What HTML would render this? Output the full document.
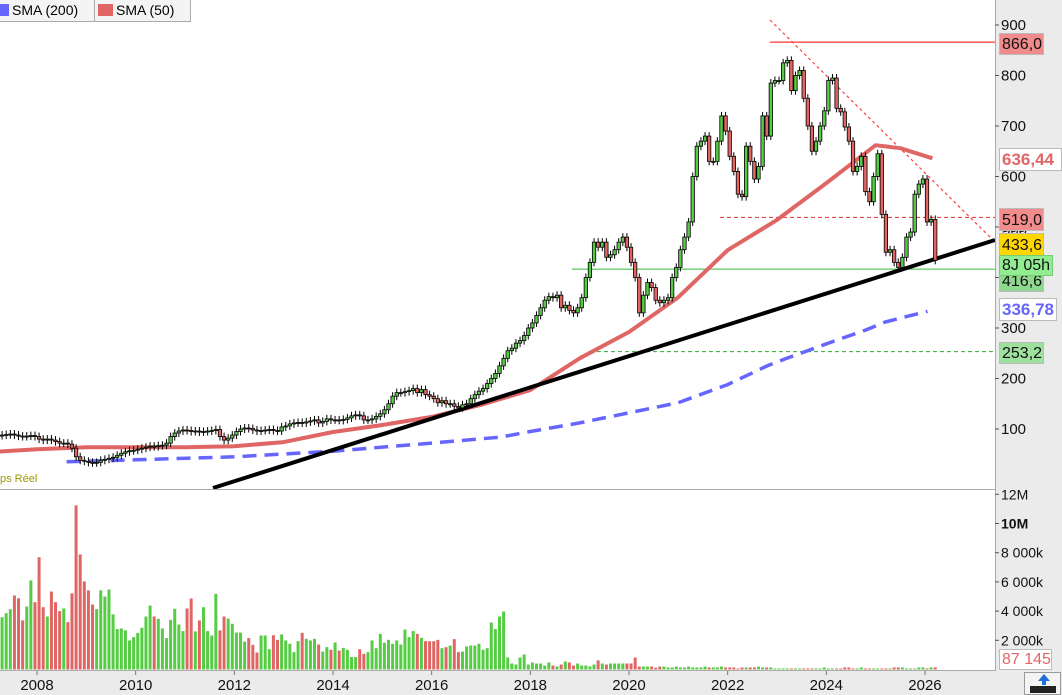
<!DOCTYPE html>
<html><head><meta charset="utf-8">
<style>
body{margin:0;width:1062px;height:695px;overflow:hidden;background:#fff;font-family:"Liberation Sans",sans-serif;}
svg{display:block}
</style></head>
<body>
<svg id="chart" width="1062" height="695" xmlns="http://www.w3.org/2000/svg">
<rect x="0" y="0" width="1062" height="695" fill="#fff"/>
<rect x="995" y="0" width="67" height="695" fill="#ebebeb"/>
<rect x="0" y="671" width="1062" height="24" fill="#ebebeb"/>
<g id="annot"></g>
<g id="vol"></g>
<g id="sma"></g>
<g id="candles"></g>
<g id="axes"></g>
</svg>
<script>
// ---- data (monthly, Jan 2007 .. ) ----
const startYear = 2007;
const closes = [
84,86,87,88,89,90,88,86,85,86,87,85,
80,78,80,78,75,72,72,70,62,45,38,36,
34,33,34,38,40,42,44,48,52,55,57,58,
60,62,64,66,65,67,68,72,85,92,96,98,
97,95,96,94,95,96,97,99,85,78,82,88,
95,100,102,101,98,96,97,98,99,97,96,104,
106,110,112,113,112,114,116,118,112,115,120,118,
118,117,119,122,126,128,126,118,118,120,125,130,
138,150,165,172,172,174,176,180,172,178,168,165,
160,152,156,150,150,145,142,148,150,160,168,175,
180,190,200,210,225,240,255,260,270,275,285,300,
310,325,340,355,362,360,365,340,345,335,330,340,
360,400,430,470,460,470,440,445,455,470,480,460,
430,400,330,365,390,380,355,350,355,360,400,420,
455,480,510,600,660,670,680,630,630,670,720,690,
640,610,565,560,660,630,595,620,720,680,785,790,
790,825,830,770,800,810,755,700,650,670,700,730,790,
795,735,728,698,670,610,620,640,570,550,600,645,
525,450,455,430,420,440,480,490,565,585,595,510,515,
434];
const volStart = 3;
const volumes = [
3.58,3.86,4.13,5.07,4.88,3.36,4.31,6.10,4.61,7.69,4.27,3.63,
5.34,4.61,4.00,4.18,3.24,5.22,11.24,7.88,6.03,5.42,4.45,4.13,
5.42,5.00,5.48,3.77,2.77,2.81,2.68,1.99,2.22,2.51,2.86,3.63,
4.38,3.63,3.47,2.81,2.15,3.40,4.16,3.08,2.63,4.18,4.86,2.61,
3.36,4.27,2.63,2.33,5.18,2.68,3.63,3.49,3.13,2.53,2.53,1.91,
2.15,1.69,1.16,2.33,2.33,1.39,2.35,2.03,2.40,1.99,1.76,1.19,
1.94,2.51,2.10,1.99,2.10,1.71,1.23,1.53,1.35,1.85,1.30,1.48,
1.35,0.85,0.85,1.39,1.07,1.19,1.99,1.46,2.44,1.83,2.03,1.76,
1.99,1.71,2.74,2.22,2.63,2.44,2.17,1.94,1.94,1.94,2.03,1.46,
1.53,1.64,2.08,1.19,1.23,1.58,1.64,1.64,1.76,1.35,1.46,3.22,2.77,
3.63,3.97,0.82,0.41,0.34,0.82,1.03,0.34,0.48,0.41,0.41,0.27,
0.48,0.27,0.21,0.34,0.55,0.48,0.27,0.41,0.27,0.27,0.21,0.34,
0.62,0.41,0.34,0.41,0.41,0.41,0.41,0.41,0.41,0.82,0.20,0.20,
0.20,0.20,0.12,0.20,0.20,0.14,0.14,0.20,0.14,0.14,0.20,0.14,
0.14,0.14,0.20,0.14,0.14,0.14,0.20,0.14,0.14,0.14,0.07,0.14,
0.14,0.14,0.14,0.20,0.14,0.14,0.14,0.07,0.07,0.07,0.07,0.07,
0.07,0.07,0.07,0.07,0.07,0.07,0.07,0.14,0.07,0.07,0.07,0.07,
0.14,0.14,0.07,0.07,0.14,0.07,0.07,0.07,0.07,0.07,0.07,0.07,
0.14,0.14,0.14,0.07,0.07,0.07,0.14,0.14,0.07,0.14,0.14,0.07,
0.07,0.07,0.07,0.07,0.07,0.14,0.09];
const sma50Years = [2007,2008,2009,2010,2011,2012,2013,2014,2015,2016,2017,2018,2019,2020,2021,2022,2023,2024,2025,2025.5,2026.15];
const sma50Vals  = [54,60,64,64,64,66,74,94,108,124,148,177,240,292,361,454,514,587,662,656,636];
const sma200Years = [2008.6,2010,2012,2014,2016,2017.4,2018,2019,2020,2021,2022,2022.8,2023.2,2024.1,2024.8,2025.2,2026.05];
const sma200Vals  = [35,39,45,56,72,84,95,112,132,152,188,225,240,272,296,312,333];
const priceTicks = [100,200,300,400,500,600,700,800,900];
const volTicks = [2,4,6,8,10,12];
const volTickLabels = ["2 000k","4 000k","6 000k","8 000k","10M","12M"];
const yearTicks = [2008,2010,2012,2014,2016,2018,2020,2022,2024,2026];

// ---- scales ----
const X0 = -12.3, PX_PER_YEAR = 49.33;
const xYear = yr => X0 + (yr - startYear) * PX_PER_YEAR;
const xMonth = i => X0 + (i + 0.5) * PX_PER_YEAR / 12;
const yP = v => 429 - (v - 100) * 0.505;
const yV = v => 669.5 - v * 14.6;

const NS = "http://www.w3.org/2000/svg";
function mk(parent, tag, attrs){const e=document.createElementNS(NS,tag);for(const k in attrs)e.setAttribute(k,attrs[k]);document.getElementById(parent).appendChild(e);return e;}

// ---- annotations ----
let a;
a=mk('annot','line',{x1:770,y1:yP(866),x2:995,y2:yP(866),stroke:'#ff0000','stroke-width':1});


a=mk('annot','line',{x1:720,y1:yP(519),x2:995,y2:yP(519),stroke:'#e03030','stroke-width':1,'stroke-dasharray':'4,3'});


a=mk('annot','line',{x1:572,y1:yP(416.6),x2:995,y2:yP(416.6),stroke:'#33bb33','stroke-width':1});


a=mk('annot','line',{x1:597,y1:yP(253.2),x2:995,y2:yP(253.2),stroke:'#33aa33','stroke-width':1,'stroke-dasharray':'4,3'});


a=mk('annot','line',{x1:770,y1:20,x2:995,y2:242,stroke:'#ff4040','stroke-width':1.2,'stroke-dasharray':'3,3'});



// ---- volume ----
volumes.slice(0, closes.length - volStart).forEach((v,k)=>{
  const i=k+volStart;
  const up = i===0 || closes[i]>=closes[i-1];
  const r=mk('vol','rect',{x:xMonth(i)-1.5,y:yV(v),width:3,height:Math.max(0.5,669.5-yV(v)),fill:up?'#55cc44':'#e06666'});
  
  
});

// ---- SMAs ----
function poly(xs,vs){return xs.map((y,k)=>xYear(y).toFixed(1)+','+yP(vs[k]).toFixed(1)).join(' ');}
a=mk('sma','polyline',{points:poly(sma200Years,sma200Vals),fill:'none',stroke:'#6666ff','stroke-width':3.5,'stroke-dasharray':'14,8'});


a=mk('sma','polyline',{points:poly(sma50Years,sma50Vals),fill:'none',stroke:'#e06666','stroke-width':4,'stroke-linejoin':'round'});


a=mk('sma','line',{x1:213,y1:488,x2:995,y2:240,stroke:'#000','stroke-width':4});



// ---- candles ----
closes.forEach((c,i)=>{
  const o = i===0 ? c : closes[i-1];
  const x = xMonth(i);
  const top = yP(Math.max(o,c)), bot = yP(Math.min(o,c));
  const w = mk('candles','line',{x1:x,y1:top-4,x2:x,y2:bot+4,stroke:'#000','stroke-width':1});
  
  
  const b = mk('candles','rect',{x:x-1.7,y:top,width:3.4,height:Math.max(1,bot-top),fill:c>=o?'#55cc44':'#e06666',stroke:'#000','stroke-width':0.8});
  
  
});

// ---- axes ----
a=mk('axes','line',{x1:995.5,y1:0,x2:995.5,y2:671,stroke:'#aaa','stroke-width':1});


a=mk('axes','line',{x1:0,y1:489.5,x2:995,y2:489.5,stroke:'#aaa','stroke-width':1});


a=mk('axes','line',{x1:0,y1:670.5,x2:995,y2:670.5,stroke:'#aaa','stroke-width':1});


priceTicks.forEach(v=>{
  const y=yP(v);
  const t=mk('axes','line',{x1:995,y1:y,x2:999,y2:y,stroke:'#555'});
  
  
  const l=mk('axes','text',{x:1001,y:y+5,'font-size':15,fill:'#111'});
  l.textContent=v;
  
  
});
volTicks.forEach((v,k)=>{
  const y=yV(v);
  const t=mk('axes','line',{x1:995,y1:y,x2:999,y2:y,stroke:'#555'});
  
  
  const l=mk('axes','text',{x:1001,y:y+5,'font-size':14,fill:'#111','font-weight':v===10?'bold':'normal'});
  l.textContent=volTickLabels[k];
  
  
});
yearTicks.forEach(yr=>{
  const x=xYear(yr);
  const t=mk('axes','line',{x1:x,y1:671,x2:x,y2:675,stroke:'#777'});
  
  
  const l=mk('axes','text',{x:x,y:690,'font-size':15,fill:'#111','text-anchor':'middle'});
  l.textContent=yr;
  
  
});

// ---- right-side price badges ----
function badge(name,y,h,w,text,bg,border,color,bold){
  const r=mk('axes','rect',{x:999.5,y:y+0.5,width:w,height:h,fill:bg,stroke:border,'stroke-width':1});
  
  
  const t=mk('axes','text',{x:1002,y:y+h-5,'font-size':bold?17:16,fill:color,'font-weight':bold?'bold':'normal'});
  t.textContent=text;
  
  
}
badge('label-866',33,21,44,'866,0','#f28b8b','#bbb','#111',false);
badge('label-sma50',148,22,62,'636,44','#fff','#bbb','#e06666',true);
{const t=mk('axes','text',{x:1002,y:235,'font-size':15,fill:'#111'});t.textContent='500';

}
badge('label-519',208,22,44,'519,0','#f28b8b','#bbb','#111',false);
badge('label-416',271,20,44,'416,6','#8fd88f','#bbb','#111',false);
badge('label-433',233,22,44,'433,6','#ffd700','#bbb','#111',false);
badge('label-countdown',255,20,53,'8J 05h','#90ee90','#7c7','#111',false);
badge('label-sma200',298,22,57,'336,78','#fff','#bbb','#6666ff',true);
badge('label-253',342,21,44,'253,2','#9ee09e','#bbb','#111',false);
badge('label-volume',649,20,52,'87 145','#fff','#bbb','#e06666',false);
</script>
<div style="position:absolute;left:0;top:0;height:21px;width:190px;background:#f4f4f4;border:1px solid #aaa;border-top:none;border-left:none;font-size:14px;line-height:20px;">
 <span style="position:absolute;left:0;top:4px;width:9px;height:12px;background:#6666ff"></span>
 <span style="position:absolute;left:12px;top:0">SMA (200)</span>
 <span style="position:absolute;left:94px;top:0;width:1px;height:21px;background:#aaa"></span>
 <span style="position:absolute;left:98px;top:4px;width:15px;height:12px;background:#e06666"></span>
 <span style="position:absolute;left:116px;top:0">SMA (50)</span>
</div>
<div style="position:absolute;left:0;top:473px;font-size:11px;color:#999900">ps Réel</div>
<div style="position:absolute;left:1024px;top:672px;width:37px;height:23px;background:#f4f4f4;border:1px solid #999;box-sizing:border-box;">
 <div style="position:absolute;left:13px;top:1px;width:0;height:0;border-left:6px solid transparent;border-right:6px solid transparent;border-bottom:7px solid #1e6fd9"></div>
 <div style="position:absolute;left:17px;top:7px;width:4px;height:5px;background:#1e6fd9"></div>
 <div style="position:absolute;left:5px;top:13px;width:26px;height:7px;background:#222"></div>
</div>
</body></html>
